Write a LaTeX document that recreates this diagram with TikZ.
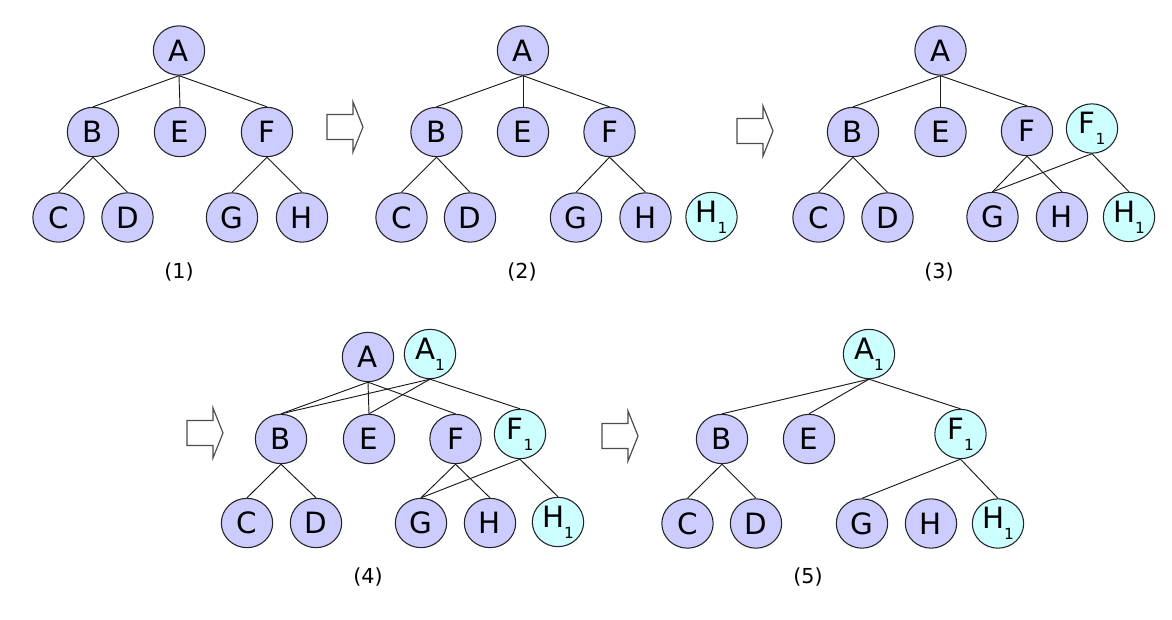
\documentclass[tikz,border=0pt]{standalone}
\usepackage{fontspec}
\setmainfont{DejaVu Sans}
\usetikzlibrary{shapes.geometric}
\definecolor{vio}{RGB}{204,204,255}
\definecolor{cya}{RGB}{204,255,255}
\definecolor{bord}{RGB}{35,35,35}
\newcommand{\lowsub}[1]{\raisebox{-8.25pt}{\fontsize{11.5pt}{13pt}\selectfont #1}}
\newcommand{\bigarrow}[2]{\draw[bigarr] (#1,#2) ++(0,-12.5) -- ++(26,0) -- ++(0,-12.5) -- ++(10,25) -- ++(-10,25) -- ++(0,-12.5) -- ++(-26,0) -- cycle;}
\begin{document}
\begin{tikzpicture}[x=0.75pt,y=-0.75pt,
  tn/.style={ellipse, draw=bord, line width=0.8pt, minimum width=38.5pt, minimum height=37pt, inner sep=0pt, font=\fontsize{22pt}{24pt}\selectfont},
  old/.style={tn, fill=vio},
  new/.style={tn, fill=cya},
  edge/.style={draw=black!90, line width=0.7pt},
  steplabel/.style={font=\fontsize{15.5pt}{18pt}\selectfont, inner sep=0pt},
  bigarr/.style={draw=black!70, line width=0.9pt, fill=white}]
\useasboundingbox (0,0) rectangle (1172,620);

% ---------- panel 1 ----------
\node[old] (p1A) at (179,50.5) {A};
\node[old] (p1B) at (93,132) {B};
\node[old] (p1E) at (180,132) {E};
\node[old] (p1F) at (267,132) {F};
\node[old] (p1C) at (58.5,217.5) {C};
\node[old] (p1D) at (127.5,217.5) {D};
\node[old] (p1G) at (232,217.5) {G};
\node[old] (p1H) at (302,217.5) {H};
\node[steplabel] (p1L) at (179,272) {(1)};
\foreach \a/\b in {A/B,A/E,A/F,B/C,B/D,F/G,F/H}
  \draw[edge] (p1\a.south) -- (p1\b.north);

\bigarrow{327}{127}

% ---------- panel 2 ----------
\node[old] (p2A) at (523,50.5) {A};
\node[old] (p2B) at (436.5,132) {B};
\node[old] (p2E) at (523,132) {E};
\node[old] (p2F) at (609.5,132) {F};
\node[old] (p2C) at (401.5,217.5) {C};
\node[old] (p2D) at (470,217.5) {D};
\node[old] (p2G) at (576,217.5) {G};
\node[old] (p2H) at (645.5,217.5) {H};
\node[new] (p2H1) at (711.5,217) {H\lowsub{1}};
\node[steplabel] (p2L) at (522,272) {(2)};
\foreach \a/\b in {A/B,A/E,A/F,B/C,B/D,F/G,F/H}
  \draw[edge] (p2\a.south) -- (p2\b.north);

\bigarrow{737}{131}

% ---------- panel 3 ----------
\node[old] (p3A) at (940.5,50.5) {A};
\node[old] (p3B) at (853,132) {B};
\node[old] (p3E) at (940.5,132) {E};
\node[old] (p3F) at (1027,131) {F};
\node[new] (p3F1) at (1092,128.5) {F\lowsub{1}};
\node[old] (p3C) at (818.5,217.5) {C};
\node[old] (p3D) at (887.5,217.5) {D};
\node[old] (p3G) at (992.5,217) {G};
\node[old] (p3H) at (1062,217) {H};
\node[new] (p3H1) at (1129,217) {H\lowsub{1}};
\node[steplabel] (p3L) at (939,272) {(3)};
\foreach \a/\b in {A/B,A/E,A/F,B/C,B/D,F/G,F/H,F1/G,F1/H1}
  \draw[edge] (p3\a.south) -- (p3\b.north);

\bigarrow{187}{433}

% ---------- panel 4 ----------
\node[old] (p4A) at (368,357) {A};
\node[new] (p4A1) at (430,354) {A\lowsub{1}};
\node[old] (p4B) at (281,439) {B};
\node[old] (p4E) at (369,439) {E};
\node[old] (p4F) at (455.5,439) {F};
\node[new] (p4F1) at (520,434) {F\lowsub{1}};
\node[old] (p4C) at (247,523) {C};
\node[old] (p4D) at (316,523) {D};
\node[old] (p4G) at (421,523) {G};
\node[old] (p4H) at (490,523) {H};
\node[new] (p4H1) at (558,522) {H\lowsub{1}};
\node[steplabel] (p4L) at (368,577) {(4)};
\foreach \a/\b in {A/B,A/E,A/F,A1/B,A1/E,A1/F1,B/C,B/D,F/G,F/H,F1/G,F1/H1}
  \draw[edge] (p4\a.south) -- (p4\b.north);

\bigarrow{602}{436}

% ---------- panel 5 ----------
\node[new] (p5A1) at (869,354) {A\lowsub{1}};
\node[old] (p5B) at (722,439) {B};
\node[old] (p5E) at (809,439) {E};
\node[new] (p5F1) at (960.5,434) {F\lowsub{1}};
\node[old] (p5C) at (687.5,523.5) {C};
\node[old] (p5D) at (756,523.5) {D};
\node[old] (p5G) at (862,523.5) {G};
\node[old] (p5H) at (931,523.5) {H};
\node[new] (p5H1) at (998,523.5) {H\lowsub{1}};
\node[steplabel] (p5L) at (808,577) {(5)};
\foreach \a/\b in {A1/B,A1/E,A1/F1,B/C,B/D,F1/G,F1/H1}
  \draw[edge] (p5\a.south) -- (p5\b.north);
\end{tikzpicture}
\end{document}
